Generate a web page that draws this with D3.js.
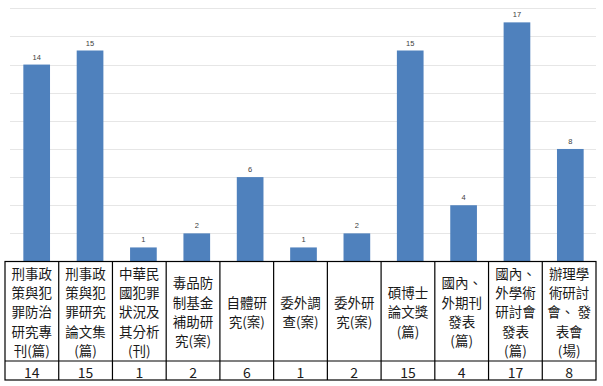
<!DOCTYPE html>
<html>
<head>
<meta charset="utf-8">
<script src="https://cdn.jsdelivr.net/npm/d3@7"></script>
<style>
  html,body{margin:0;padding:0;background:#fff;}
  svg{display:block;}
</style>
</head>
<body>
<div id="chart"></div>
<script>
(function(){
  // category labels, line-broken as in the data table
  const categories=[
    ["刑事政","策與犯","罪防治","研究專","刊(篇)"],
    ["刑事政","策與犯","罪研究","論文集","(篇)"],
    ["中華民","國犯罪","狀況及","其分析","(刊)"],
    ["毒品防","制基金","補助研","究(案)"],
    ["自體研","究(案)"],
    ["委外調","查(案)"],
    ["委外研","究(案)"],
    ["碩博士","論文獎","(篇)"],
    ["國內、","外期刊","發表","(篇)"],
    ["國內、","外學術","研討會","發表","(篇)"],
    ["辦理學","術研討","會、 發","表會","(場)"]
  ];
  const values=[14,15,1,2,6,1,2,15,4,17,8];
  const yTicks=[0,2,4,6,8,10,12,14,16,18];

  const W=603,H=386;
  const base=261.5, top=8.3;
  const tbl={left:5,right:596,top:261.5,mid:361,bottom:380};

  const svg=d3.select("#chart").append("svg").attr("width",W).attr("height",H);
  const idx=d3.range(values.length);

  const y=d3.scaleLinear().domain([0,18]).range([base,top]);
  const x=d3.scaleBand().domain(idx).range([10,597]).paddingInner(.5).paddingOuter(.25);
  const col=d3.scaleBand().domain(idx).range([tbl.left,tbl.right]);

  // gridlines
  svg.append("g").selectAll("line").data(yTicks.slice(1)).join("line")
    .attr("x1",10).attr("x2",596)
    .attr("y1",d=>Math.round(y(d))+.5).attr("y2",d=>Math.round(y(d))+.5)
    .attr("stroke","#e6e6e6");

  svg.append("g").selectAll("rect").data(values).join("rect")
    .attr("x",(d,i)=>x(i))
    .attr("y",d=>y(d))
    .attr("width",x.bandwidth())
    .attr("height",d=>base-y(d))
    .attr("fill","#4f81bd");

  svg.append("g").selectAll("text").data(values).join("text")
    .attr("x",(d,i)=>x(i)+x.bandwidth()/2)
    .attr("y",d=>y(d)-5)
    .attr("text-anchor","middle")
    .attr("font-family","Liberation Sans, Arial, sans-serif")
    .attr("font-size",7.5)
    .attr("fill","#404040")
    .text(d=>d);

  // data table below the plot
  const t=svg.append("g").attr("stroke","#000").attr("stroke-width",1.2);
  t.append("rect")
    .attr("x",tbl.left).attr("y",tbl.top)
    .attr("width",tbl.right-tbl.left).attr("height",tbl.bottom-tbl.top)
    .attr("fill","none");
  t.append("line").attr("x1",tbl.left).attr("x2",tbl.right).attr("y1",tbl.mid).attr("y2",tbl.mid);
  t.selectAll(".sep").data(idx.slice(1)).join("line")
    .attr("x1",i=>col(i)).attr("x2",i=>col(i))
    .attr("y1",tbl.top).attr("y2",tbl.bottom);

  const lh=19.3, cy=(tbl.top+tbl.mid)/2;
  const cells=svg.append("g").selectAll("text").data(categories).join("text")
    .attr("text-anchor","middle")
    .attr("font-family","Noto Sans CJK TC, sans-serif")
    .attr("font-size",13.5)
    .attr("fill","#1a1a1a");
  cells.each(function(lines,i){
    const n=lines.length;
    d3.select(this).selectAll("tspan").data(lines).join("tspan")
      .attr("x",col(i)+col.bandwidth()/2)
      .attr("y",(l,k)=>cy+(k-(n-1)/2)*lh)
      .attr("dominant-baseline","central")
      .text(l=>l);
  });

  svg.append("g").selectAll("text").data(values).join("text")
    .attr("x",(d,i)=>col(i)+col.bandwidth()/2)
    .attr("y",(tbl.mid+tbl.bottom)/2+1)
    .attr("dominant-baseline","central")
    .attr("text-anchor","middle")
    .attr("font-family","Noto Sans CJK TC, sans-serif")
    .attr("font-size",14)
    .attr("fill","#1a1a1a")
    .text(d=>d);
})();
</script>
</body>
</html>
